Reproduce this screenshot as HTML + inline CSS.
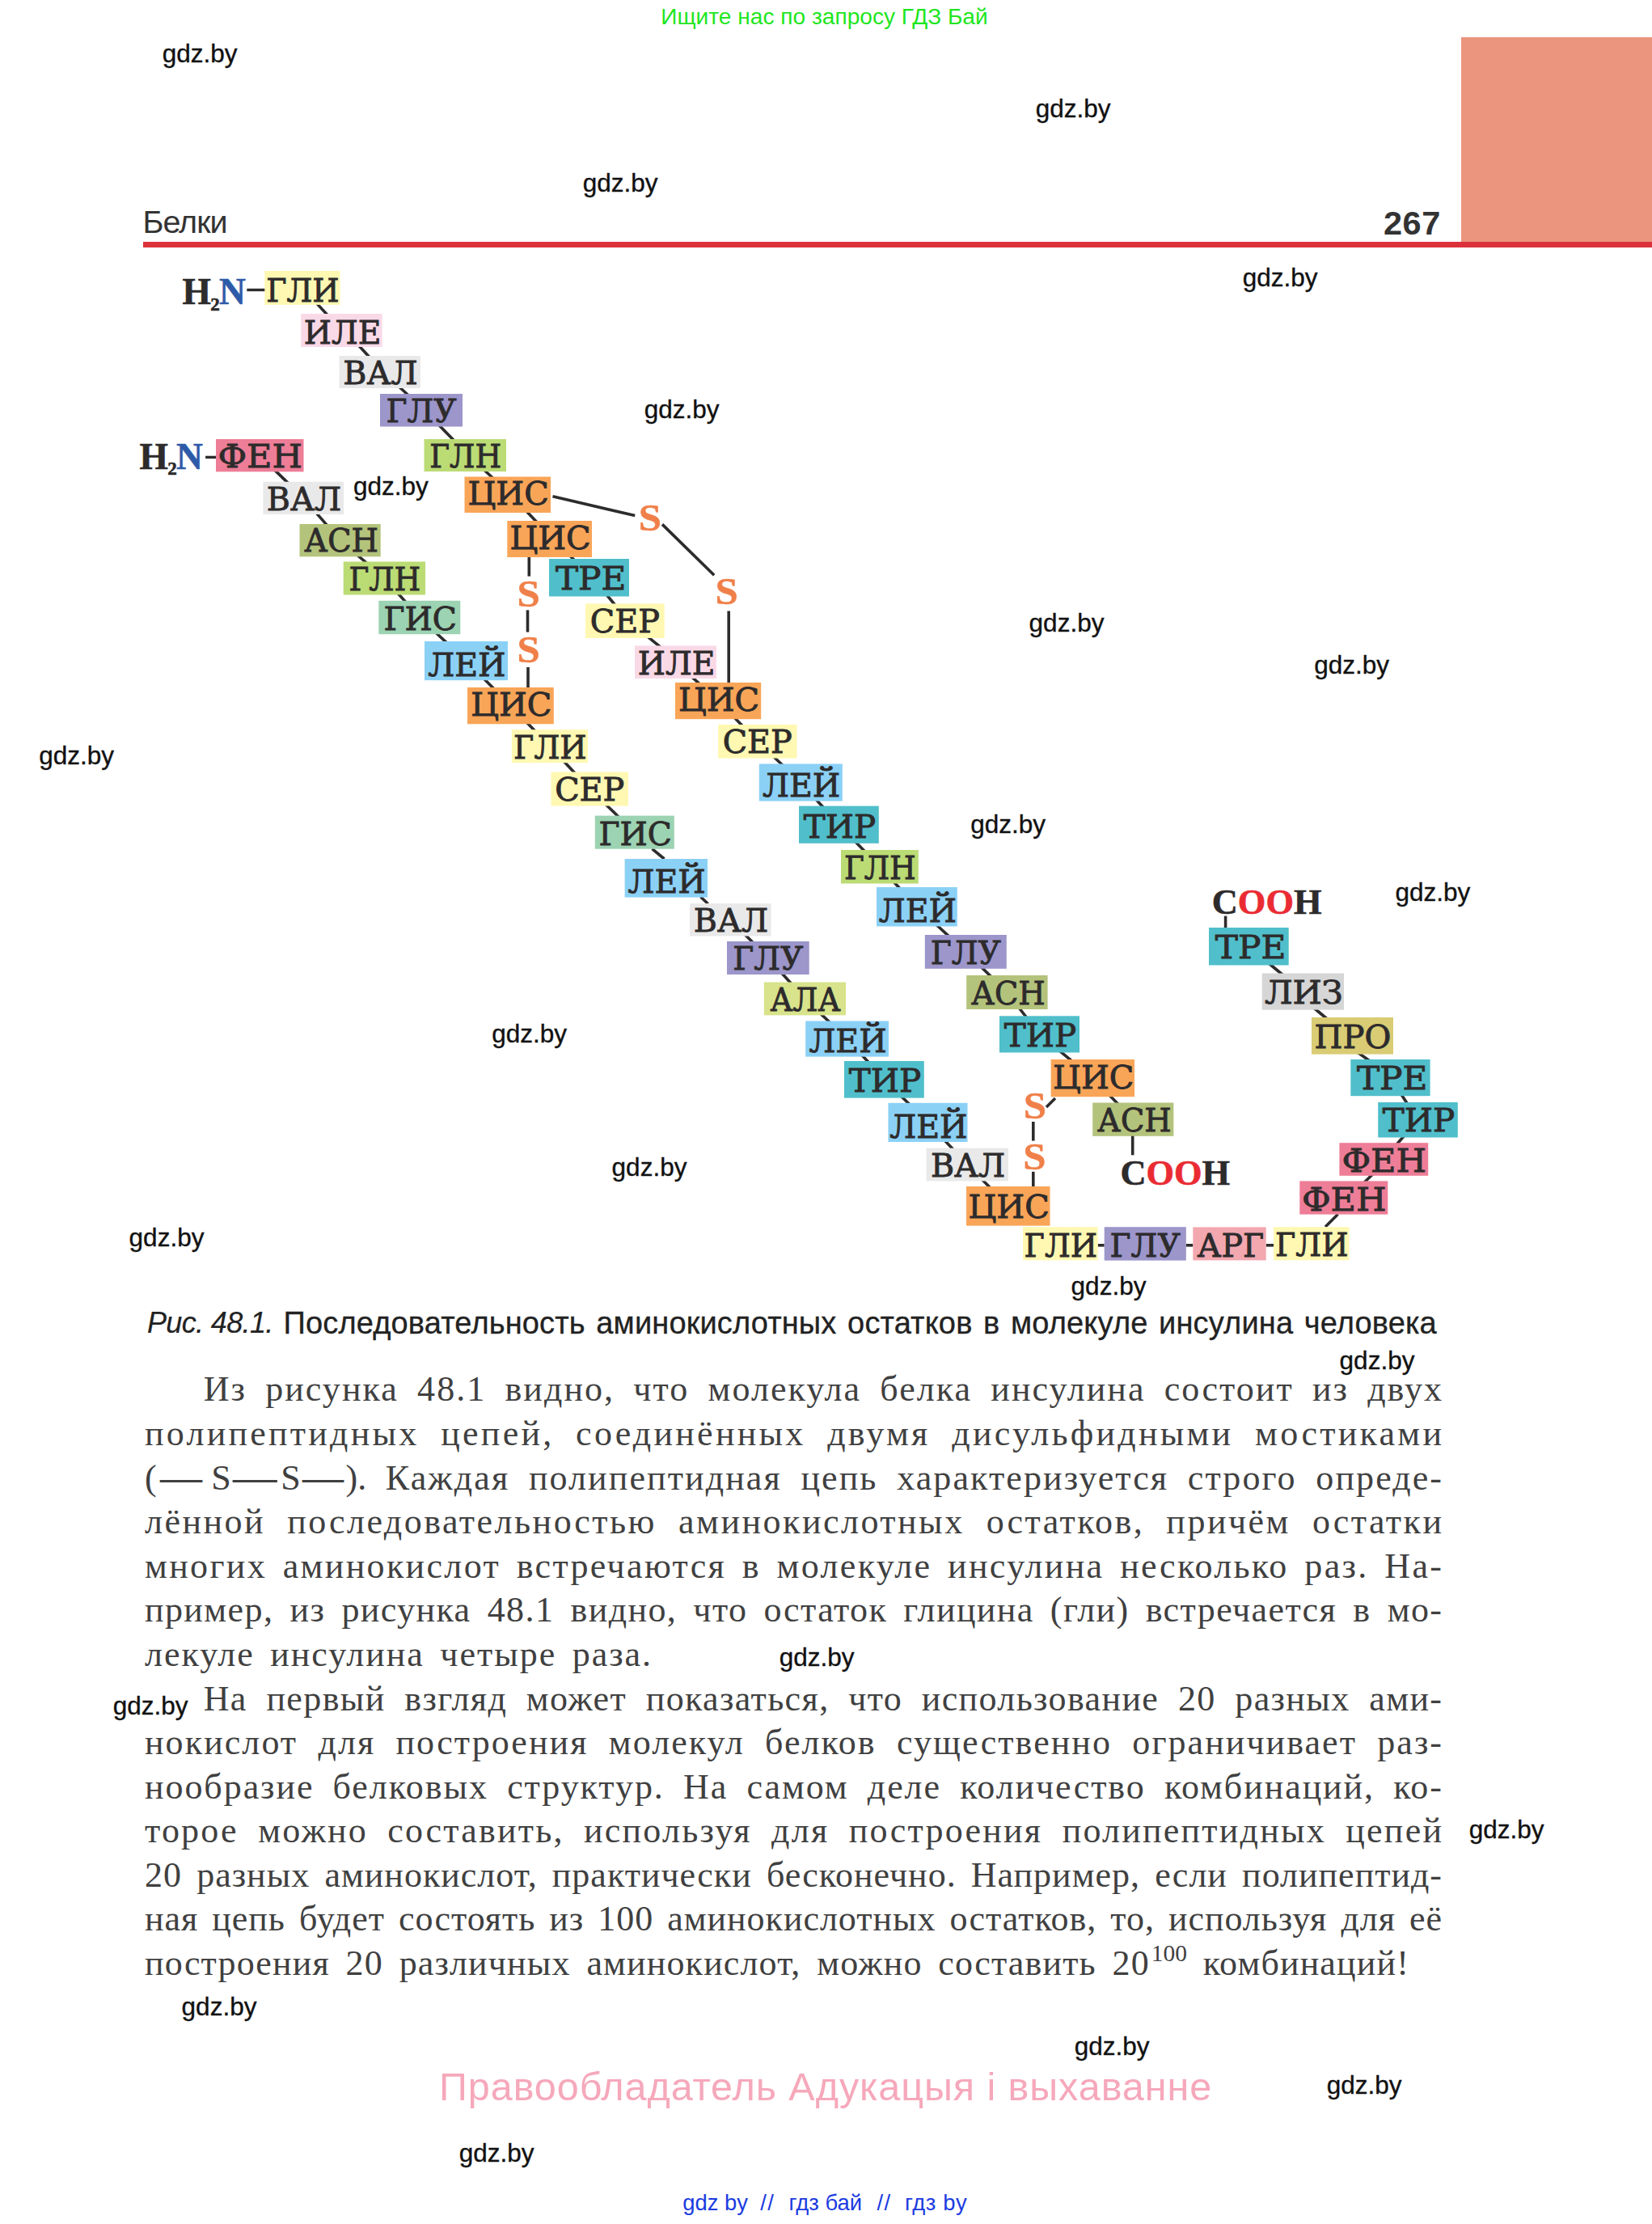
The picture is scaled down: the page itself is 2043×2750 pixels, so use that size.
<!DOCTYPE html>
<html lang="ru"><head><meta charset="utf-8"><title>Белки — 267</title>
<style>
html,body{margin:0;padding:0;background:#fff}
body{width:2043px;height:2750px;position:relative;overflow:hidden;font-family:"Liberation Sans",sans-serif}
.abs{position:absolute;white-space:nowrap}
.wm{position:absolute;white-space:nowrap;font:31.5px/36px "Liberation Sans",sans-serif;color:#111;-webkit-text-stroke:0.35px #111}
.ln{position:absolute;white-space:nowrap;font-family:"Liberation Serif",serif;font-size:44px;line-height:50px;height:50px;color:#404040;text-align:justify;text-align-last:justify}
.pf{letter-spacing:0}
.d{display:inline-block;transform-origin:left center;font-weight:bold;letter-spacing:0;text-align:left;text-align-last:left}
.ln.last{text-align:left;text-align-last:left}
.ln sup{font-size:29.5px;line-height:0;vertical-align:baseline;position:relative;top:-17px;letter-spacing:0px;margin-left:2px}
svg text{font-family:'DejaVu Serif','Liberation Serif',serif;font-size:39.3px;fill:#2d2b2c;stroke:#2d2b2c;stroke-width:0.9px}
</style></head><body>

<div class="abs" style="left:-2px;width:2043px;text-align:center;top:0.9px;font-size:28.1px;line-height:40px;color:#1ee61e">Ищите нас по запросу ГДЗ Бай</div>
<div class="abs" style="left:1807.2px;top:46px;width:236px;height:256px;background:#ec957e"></div>
<div class="abs" style="left:177px;top:299.4px;width:1866px;height:6.4px;background:#db323b"></div>
<div class="abs" style="left:176.5px;top:252.1px;font-size:39.5px;line-height:44px;color:#333;letter-spacing:-1px">Белки</div>
<div class="abs" style="left:1711px;top:254.3px;font-size:41.5px;line-height:44px;font-weight:bold;color:#333;letter-spacing:0.5px">267</div>
<svg class="abs" style="left:0;top:0" width="2043" height="2750" viewBox="0 0 2043 2750">
<line x1="374.0" y1="355.9" x2="422.4" y2="408.5" stroke="#2d2b2c" stroke-width="3.6"/>
<line x1="426.4" y1="408.5" x2="473.8" y2="460.0" stroke="#2d2b2c" stroke-width="3.6"/>
<line x1="473.8" y1="460.0" x2="525.0" y2="507.2" stroke="#2d2b2c" stroke-width="3.6"/>
<line x1="525.0" y1="507.2" x2="579.2" y2="563.0" stroke="#2d2b2c" stroke-width="3.6"/>
<line x1="579.2" y1="563.0" x2="631.8" y2="611.8" stroke="#2d2b2c" stroke-width="3.6"/>
<line x1="631.8" y1="611.8" x2="683.6" y2="666.5" stroke="#2d2b2c" stroke-width="3.6"/>
<line x1="683.6" y1="666.5" x2="732.5" y2="714.2" stroke="#2d2b2c" stroke-width="3.6"/>
<line x1="732.5" y1="714.2" x2="776.9" y2="767.7" stroke="#2d2b2c" stroke-width="3.6"/>
<line x1="776.9" y1="767.7" x2="839.5" y2="818.7" stroke="#2d2b2c" stroke-width="3.6"/>
<line x1="835.5" y1="818.7" x2="888.1" y2="866.6" stroke="#2d2b2c" stroke-width="3.6"/>
<line x1="888.1" y1="866.6" x2="936.8" y2="916.8" stroke="#2d2b2c" stroke-width="3.6"/>
<line x1="936.8" y1="916.8" x2="990.3" y2="967.5" stroke="#2d2b2c" stroke-width="3.6"/>
<line x1="990.3" y1="967.5" x2="1037.4" y2="1019.7" stroke="#2d2b2c" stroke-width="3.6"/>
<line x1="1037.4" y1="1019.7" x2="1087.9" y2="1071.8" stroke="#2d2b2c" stroke-width="3.6"/>
<line x1="1087.9" y1="1071.8" x2="1133.9" y2="1121.2" stroke="#2d2b2c" stroke-width="3.6"/>
<line x1="1133.9" y1="1121.2" x2="1194.3" y2="1176.9" stroke="#2d2b2c" stroke-width="3.6"/>
<line x1="1194.3" y1="1176.9" x2="1245.4" y2="1227.0" stroke="#2d2b2c" stroke-width="3.6"/>
<line x1="1245.4" y1="1227.0" x2="1285.5" y2="1278.9" stroke="#2d2b2c" stroke-width="3.6"/>
<line x1="1285.5" y1="1278.9" x2="1351.3" y2="1333.1" stroke="#2d2b2c" stroke-width="3.6"/>
<line x1="1351.3" y1="1333.1" x2="1401.3" y2="1384.2" stroke="#2d2b2c" stroke-width="3.6"/>
<line x1="321.2" y1="563.1" x2="375.2" y2="615.9" stroke="#2d2b2c" stroke-width="3.6"/>
<line x1="375.2" y1="615.9" x2="420.6" y2="668.1" stroke="#2d2b2c" stroke-width="3.6"/>
<line x1="420.6" y1="668.1" x2="475.4" y2="715.0" stroke="#2d2b2c" stroke-width="3.6"/>
<line x1="475.4" y1="715.0" x2="518.8" y2="763.5" stroke="#2d2b2c" stroke-width="3.6"/>
<line x1="518.8" y1="763.5" x2="576.5" y2="817.1" stroke="#2d2b2c" stroke-width="3.6"/>
<line x1="576.5" y1="817.1" x2="631.4" y2="872.6" stroke="#2d2b2c" stroke-width="3.6"/>
<line x1="631.4" y1="872.6" x2="679.9" y2="922.8" stroke="#2d2b2c" stroke-width="3.6"/>
<line x1="679.9" y1="922.8" x2="729.2" y2="975.5" stroke="#2d2b2c" stroke-width="3.6"/>
<line x1="729.2" y1="975.5" x2="784.8" y2="1029.2" stroke="#2d2b2c" stroke-width="3.6"/>
<line x1="806.5" y1="1049.7" x2="821.5" y2="1062.0" stroke="#2d2b2c" stroke-width="3.6"/>
<line x1="866.5" y1="1109.0" x2="875.5" y2="1117.5" stroke="#2d2b2c" stroke-width="3.6"/>
<line x1="903.2" y1="1137.3" x2="949.9" y2="1184.5" stroke="#2d2b2c" stroke-width="3.6"/>
<line x1="949.9" y1="1184.5" x2="995.4" y2="1235.0" stroke="#2d2b2c" stroke-width="3.6"/>
<line x1="995.4" y1="1235.0" x2="1047.6" y2="1284.5" stroke="#2d2b2c" stroke-width="3.6"/>
<line x1="1047.6" y1="1284.5" x2="1093.4" y2="1334.8" stroke="#2d2b2c" stroke-width="3.6"/>
<line x1="1093.4" y1="1334.8" x2="1147.5" y2="1387.9" stroke="#2d2b2c" stroke-width="3.6"/>
<line x1="1147.5" y1="1387.9" x2="1196.3" y2="1440.1" stroke="#2d2b2c" stroke-width="3.6"/>
<line x1="1196.3" y1="1440.1" x2="1246.8" y2="1491.3" stroke="#2d2b2c" stroke-width="3.6"/>
<line x1="1357.7" y1="1539.8" x2="1365.7" y2="1539.8" stroke="#2d2b2c" stroke-width="3.6"/>
<line x1="1466.8" y1="1539.8" x2="1475.4" y2="1539.8" stroke="#2d2b2c" stroke-width="3.6"/>
<line x1="1565.7" y1="1539.8" x2="1575.6" y2="1539.8" stroke="#2d2b2c" stroke-width="3.6"/>
<line x1="1639.0" y1="1517.0" x2="1654.5" y2="1501.5" stroke="#2d2b2c" stroke-width="3.6"/>
<line x1="1699.0" y1="1450.5" x2="1685.0" y2="1464.3" stroke="#2d2b2c" stroke-width="3.6"/>
<line x1="1711.3" y1="1433.5" x2="1753.5" y2="1384.8" stroke="#2d2b2c" stroke-width="3.6"/>
<line x1="1753.5" y1="1384.8" x2="1719.4" y2="1332.6" stroke="#2d2b2c" stroke-width="3.6"/>
<line x1="1678.3" y1="1300.7" x2="1695.8" y2="1313.2" stroke="#2d2b2c" stroke-width="3.6"/>
<line x1="1624.5" y1="1246.0" x2="1642.5" y2="1261.0" stroke="#2d2b2c" stroke-width="3.6"/>
<line x1="1569.0" y1="1191.0" x2="1587.0" y2="1206.0" stroke="#2d2b2c" stroke-width="3.6"/>
<line x1="305.3" y1="358.5" x2="328.0" y2="358.5" stroke="#2d2b2c" stroke-width="3.4"/>
<line x1="254.1" y1="565.4" x2="268.0" y2="565.4" stroke="#2d2b2c" stroke-width="3.4"/>
<line x1="683.5" y1="613.8" x2="785.2" y2="637.5" stroke="#2d2b2c" stroke-width="3.6"/>
<line x1="819.0" y1="648.4" x2="883.2" y2="711.3" stroke="#2d2b2c" stroke-width="3.6"/>
<line x1="901.2" y1="755.5" x2="901.2" y2="845.0" stroke="#2d2b2c" stroke-width="3.6"/>
<line x1="654.3" y1="688.0" x2="654.3" y2="712.6" stroke="#2d2b2c" stroke-width="3.6"/>
<line x1="652.5" y1="754.4" x2="652.5" y2="781.6" stroke="#2d2b2c" stroke-width="3.6"/>
<line x1="653.0" y1="825.0" x2="653.0" y2="851.0" stroke="#2d2b2c" stroke-width="3.6"/>
<line x1="1305.0" y1="1358.0" x2="1294.0" y2="1369.0" stroke="#2d2b2c" stroke-width="3.6"/>
<line x1="1277.8" y1="1387.0" x2="1277.8" y2="1410.6" stroke="#2d2b2c" stroke-width="3.6"/>
<line x1="1277.8" y1="1448.8" x2="1277.8" y2="1468.0" stroke="#2d2b2c" stroke-width="3.6"/>
<line x1="1400.7" y1="1404.0" x2="1400.7" y2="1428.3" stroke="#2d2b2c" stroke-width="3.6"/>
<line x1="1515.6" y1="1132.6" x2="1515.6" y2="1148.0" stroke="#2d2b2c" stroke-width="3.6"/>
<rect x="327.3" y="335.0" width="93.3" height="41.9" fill="#fff8b2"/>
<rect x="372.2" y="388.0" width="100.4" height="41.0" fill="#fad9e7"/>
<rect x="419.5" y="440.0" width="100.5" height="40.0" fill="#e9e9ea"/>
<rect x="470.0" y="487.0" width="102.0" height="40.5" fill="#9c96cb"/>
<rect x="524.5" y="543.0" width="101.5" height="40.0" fill="#bbdb74"/>
<rect x="574.5" y="589.5" width="106.5" height="44.5" fill="#f9a558"/>
<rect x="627.3" y="644.0" width="104.7" height="45.0" fill="#f9a558"/>
<rect x="679.0" y="691.0" width="99.0" height="46.5" fill="#50bfcb"/>
<rect x="724.0" y="746.4" width="97.7" height="42.6" fill="#fff8b2"/>
<rect x="785.0" y="798.4" width="101.0" height="40.6" fill="#fad9e7"/>
<rect x="835.0" y="844.0" width="106.2" height="45.2" fill="#f9a558"/>
<rect x="888.0" y="896.0" width="97.5" height="41.6" fill="#fff8b2"/>
<rect x="938.8" y="944.5" width="103.0" height="46.1" fill="#8bd1f6"/>
<rect x="988.0" y="996.6" width="98.8" height="46.2" fill="#50bfcb"/>
<rect x="1040.0" y="1051.0" width="95.8" height="41.5" fill="#bbdb74"/>
<rect x="1084.0" y="1097.0" width="99.8" height="48.5" fill="#8bd1f6"/>
<rect x="1143.8" y="1156.0" width="101.0" height="41.8" fill="#9c96cb"/>
<rect x="1195.2" y="1206.0" width="100.4" height="42.0" fill="#b4c37b"/>
<rect x="1236.0" y="1256.3" width="99.0" height="45.2" fill="#50bfcb"/>
<rect x="1299.6" y="1310.0" width="103.4" height="46.2" fill="#f9a558"/>
<rect x="1351.2" y="1363.5" width="100.2" height="41.3" fill="#b4c37b"/>
<rect x="267.0" y="543.0" width="108.5" height="40.3" fill="#ee7d97"/>
<rect x="325.4" y="595.7" width="99.6" height="40.3" fill="#e9e9ea"/>
<rect x="370.5" y="648.0" width="100.2" height="40.3" fill="#b4c37b"/>
<rect x="424.7" y="694.5" width="101.3" height="41.0" fill="#bbdb74"/>
<rect x="468.3" y="742.8" width="101.0" height="41.4" fill="#9cd3b2"/>
<rect x="525.0" y="793.0" width="103.0" height="48.2" fill="#8bd1f6"/>
<rect x="578.0" y="850.0" width="106.8" height="45.3" fill="#f9a558"/>
<rect x="632.8" y="902.2" width="94.2" height="41.1" fill="#fff8b2"/>
<rect x="681.5" y="954.5" width="95.5" height="42.0" fill="#fff8b2"/>
<rect x="735.8" y="1008.6" width="98.0" height="41.1" fill="#9cd3b2"/>
<rect x="772.6" y="1062.0" width="102.4" height="47.6" fill="#8bd1f6"/>
<rect x="853.0" y="1117.2" width="100.5" height="40.3" fill="#e9e9ea"/>
<rect x="899.0" y="1164.0" width="101.7" height="41.0" fill="#9c96cb"/>
<rect x="944.8" y="1214.5" width="101.2" height="40.9" fill="#d8e38b"/>
<rect x="996.2" y="1262.5" width="102.8" height="44.1" fill="#8bd1f6"/>
<rect x="1044.0" y="1312.0" width="98.8" height="45.6" fill="#50bfcb"/>
<rect x="1098.4" y="1363.8" width="98.1" height="48.2" fill="#8bd1f6"/>
<rect x="1145.6" y="1419.7" width="101.4" height="40.7" fill="#e9e9ea"/>
<rect x="1195.0" y="1467.0" width="103.5" height="48.6" fill="#f9a558"/>
<rect x="1265.0" y="1517.2" width="92.7" height="41.1" fill="#fff8b2"/>
<rect x="1365.7" y="1517.2" width="101.1" height="41.4" fill="#9c96cb"/>
<rect x="1475.3" y="1517.4" width="90.4" height="41.0" fill="#f3a8b0"/>
<rect x="1575.0" y="1517.2" width="93.5" height="41.1" fill="#fff8b2"/>
<rect x="1607.3" y="1460.4" width="109.0" height="41.2" fill="#ee7d97"/>
<rect x="1656.4" y="1413.2" width="109.8" height="40.6" fill="#ee7d97"/>
<rect x="1704.2" y="1363.0" width="98.6" height="43.5" fill="#50bfcb"/>
<rect x="1670.3" y="1310.0" width="98.3" height="45.2" fill="#50bfcb"/>
<rect x="1622.0" y="1258.0" width="101.0" height="45.6" fill="#d9cc74"/>
<rect x="1560.7" y="1203.5" width="101.3" height="45.1" fill="#d6d6d7"/>
<rect x="1495.0" y="1147.0" width="98.7" height="46.5" fill="#50bfcb"/>
<text x="329.2" y="372.7" textLength="90.5" lengthAdjust="spacingAndGlyphs">ГЛИ</text>
<text x="375.7" y="424.5" textLength="95.6" lengthAdjust="spacingAndGlyphs">ИЛЕ</text>
<text x="424.3" y="474.8" textLength="92.2" lengthAdjust="spacingAndGlyphs">ВАЛ</text>
<text x="477.4" y="521.7" textLength="87.2" lengthAdjust="spacingAndGlyphs">ГЛУ</text>
<text x="531.3" y="577.8" textLength="88.8" lengthAdjust="spacingAndGlyphs">ГЛН</text>
<text x="578.5" y="624.0" textLength="100.2" lengthAdjust="spacingAndGlyphs">ЦИС</text>
<text x="630.4" y="679.0" textLength="100.2" lengthAdjust="spacingAndGlyphs">ЦИС</text>
<text x="686.9" y="729.3" textLength="87.5" lengthAdjust="spacingAndGlyphs">ТРЕ</text>
<text x="729.8" y="782.3" textLength="86.1" lengthAdjust="spacingAndGlyphs">СЕР</text>
<text x="788.8" y="833.6" textLength="95.6" lengthAdjust="spacingAndGlyphs">ИЛЕ</text>
<text x="838.9" y="879.2" textLength="100.2" lengthAdjust="spacingAndGlyphs">ЦИС</text>
<text x="893.7" y="930.9" textLength="86.1" lengthAdjust="spacingAndGlyphs">СЕР</text>
<text x="943.1" y="985.4" textLength="96.2" lengthAdjust="spacingAndGlyphs">ЛЕЙ</text>
<text x="993.7" y="1035.5" textLength="89.4" lengthAdjust="spacingAndGlyphs">ТИР</text>
<text x="1043.9" y="1087.3" textLength="88.8" lengthAdjust="spacingAndGlyphs">ГЛН</text>
<text x="1086.7" y="1140.3" textLength="96.2" lengthAdjust="spacingAndGlyphs">ЛЕЙ</text>
<text x="1150.7" y="1192.0" textLength="87.2" lengthAdjust="spacingAndGlyphs">ГЛУ</text>
<text x="1201.0" y="1241.8" textLength="91.8" lengthAdjust="spacingAndGlyphs">АСН</text>
<text x="1241.8" y="1294.2" textLength="89.4" lengthAdjust="spacingAndGlyphs">ТИР</text>
<text x="1302.1" y="1346.2" textLength="100.2" lengthAdjust="spacingAndGlyphs">ЦИС</text>
<text x="1356.9" y="1398.6" textLength="91.8" lengthAdjust="spacingAndGlyphs">АСН</text>
<text x="269.4" y="578.3" textLength="104.6" lengthAdjust="spacingAndGlyphs">ФЕН</text>
<text x="329.8" y="630.8" textLength="92.2" lengthAdjust="spacingAndGlyphs">ВАЛ</text>
<text x="376.2" y="682.1" textLength="91.8" lengthAdjust="spacingAndGlyphs">АСН</text>
<text x="431.4" y="730.3" textLength="88.8" lengthAdjust="spacingAndGlyphs">ГЛН</text>
<text x="474.4" y="779.0" textLength="90.4" lengthAdjust="spacingAndGlyphs">ГИС</text>
<text x="529.3" y="836.0" textLength="96.2" lengthAdjust="spacingAndGlyphs">ЛЕЙ</text>
<text x="582.2" y="885.3" textLength="100.2" lengthAdjust="spacingAndGlyphs">ЦИС</text>
<text x="635.1" y="938.1" textLength="90.5" lengthAdjust="spacingAndGlyphs">ГЛИ</text>
<text x="686.2" y="989.8" textLength="86.1" lengthAdjust="spacingAndGlyphs">СЕР</text>
<text x="740.4" y="1044.5" textLength="90.4" lengthAdjust="spacingAndGlyphs">ГИС</text>
<text x="776.6" y="1104.4" textLength="96.2" lengthAdjust="spacingAndGlyphs">ЛЕЙ</text>
<text x="857.8" y="1152.3" textLength="92.2" lengthAdjust="spacingAndGlyphs">ВАЛ</text>
<text x="906.2" y="1199.2" textLength="87.2" lengthAdjust="spacingAndGlyphs">ГЛУ</text>
<text x="952.6" y="1249.6" textLength="86.9" lengthAdjust="spacingAndGlyphs">АЛА</text>
<text x="1000.4" y="1301.4" textLength="96.2" lengthAdjust="spacingAndGlyphs">ЛЕЙ</text>
<text x="1049.7" y="1350.3" textLength="89.4" lengthAdjust="spacingAndGlyphs">ТИР</text>
<text x="1100.2" y="1406.8" textLength="96.2" lengthAdjust="spacingAndGlyphs">ЛЕЙ</text>
<text x="1150.9" y="1455.2" textLength="92.2" lengthAdjust="spacingAndGlyphs">ВАЛ</text>
<text x="1197.5" y="1505.6" textLength="100.2" lengthAdjust="spacingAndGlyphs">ЦИС</text>
<text x="1266.6" y="1553.6" textLength="90.5" lengthAdjust="spacingAndGlyphs">ГЛИ</text>
<text x="1372.6" y="1553.7" textLength="87.2" lengthAdjust="spacingAndGlyphs">ГЛУ</text>
<text x="1480.5" y="1553.7" textLength="82.7" lengthAdjust="spacingAndGlyphs">АРГ</text>
<text x="1577.0" y="1552.9" textLength="90.5" lengthAdjust="spacingAndGlyphs">ГЛИ</text>
<text x="1609.9" y="1496.6" textLength="104.6" lengthAdjust="spacingAndGlyphs">ФЕН</text>
<text x="1659.4" y="1448.8" textLength="104.6" lengthAdjust="spacingAndGlyphs">ФЕН</text>
<text x="1709.8" y="1399.2" textLength="89.4" lengthAdjust="spacingAndGlyphs">ТИР</text>
<text x="1677.9" y="1347.0" textLength="87.5" lengthAdjust="spacingAndGlyphs">ТРЕ</text>
<text x="1625.6" y="1296.0" textLength="94.7" lengthAdjust="spacingAndGlyphs">ПРО</text>
<text x="1563.9" y="1240.7" textLength="96.9" lengthAdjust="spacingAndGlyphs">ЛИЗ</text>
<text x="1502.8" y="1185.3" textLength="87.5" lengthAdjust="spacingAndGlyphs">ТРЕ</text>
<text x="789.8" y="655.7" textLength="28.2" lengthAdjust="spacingAndGlyphs" style="font-family:'Liberation Serif',serif;font-weight:bold;font-size:47px;fill:#f0804a;stroke:#f0804a;stroke-width:0.5">S</text>
<text x="884.5" y="746.7" textLength="28.2" lengthAdjust="spacingAndGlyphs" style="font-family:'Liberation Serif',serif;font-weight:bold;font-size:47px;fill:#f0804a;stroke:#f0804a;stroke-width:0.5">S</text>
<text x="639.5" y="749.5" textLength="28.2" lengthAdjust="spacingAndGlyphs" style="font-family:'Liberation Serif',serif;font-weight:bold;font-size:47px;fill:#f0804a;stroke:#f0804a;stroke-width:0.5">S</text>
<text x="639.5" y="818.8" textLength="28.2" lengthAdjust="spacingAndGlyphs" style="font-family:'Liberation Serif',serif;font-weight:bold;font-size:47px;fill:#f0804a;stroke:#f0804a;stroke-width:0.5">S</text>
<text x="1265.7" y="1383" textLength="28.2" lengthAdjust="spacingAndGlyphs" style="font-family:'Liberation Serif',serif;font-weight:bold;font-size:47px;fill:#f0804a;stroke:#f0804a;stroke-width:0.5">S</text>
<text x="1265.2" y="1445.7" textLength="28.2" lengthAdjust="spacingAndGlyphs" style="font-family:'Liberation Serif',serif;font-weight:bold;font-size:47px;fill:#f0804a;stroke:#f0804a;stroke-width:0.5">S</text>
<text x="225.4" y="376.1" style="font-family:'Liberation Serif',serif;font-weight:bold;font-size:45.5px;stroke-width:0.6" fill="#2d2b2c" stroke="#2d2b2c">H<tspan dy="7.5" dx="-0.5" style="font-size:23px">2</tspan><tspan dy="-7.5" dx="-0.8" fill="#2e5ba8" stroke="#2e5ba8">N</tspan></text>
<text x="172.4" y="579.9" style="font-family:'Liberation Serif',serif;font-weight:bold;font-size:45.5px;stroke-width:0.6" fill="#2d2b2c" stroke="#2d2b2c">H<tspan dy="7.5" dx="-0.5" style="font-size:23px">2</tspan><tspan dy="-7.5" dx="-0.8" fill="#2e5ba8" stroke="#2e5ba8">N</tspan></text>
<text x="1385.4" y="1464.7" style="font-family:'Liberation Serif',serif;font-weight:bold;font-size:44.4px;stroke-width:0.6" fill="#2d2b2c" stroke="#2d2b2c">C<tspan fill="#ea2b33" stroke="#ea2b33">OO</tspan>H</text>
<text x="1498.8" y="1130.2" style="font-family:'Liberation Serif',serif;font-weight:bold;font-size:44.4px;stroke-width:0.6" fill="#2d2b2c" stroke="#2d2b2c">C<tspan fill="#ea2b33" stroke="#ea2b33">OO</tspan>H</text>
</svg>
<div class="abs" style="left:182px;top:1613.5px;font-size:36px;line-height:44px;color:#222;letter-spacing:-0.65px;font-style:italic;-webkit-text-stroke:0.2px #222">Рис. 48.1.</div>
<div class="abs" style="left:350.6px;top:1613.5px;font-size:38px;line-height:44px;color:#222;letter-spacing:0.15px;word-spacing:2.9px;-webkit-text-stroke:0.3px #222">Последовательность аминокислотных остатков в молекуле инсулина человека</div>
<div class="ln" style="left:251.7px;top:1693.4px;width:1533.4px;letter-spacing:2.06px;word-spacing:10.1px">Из рисунка 48.1 видно, что молекула белка инсулина состоит из двух</div>
<div class="ln" style="left:179px;top:1748.0px;width:1607.2px;letter-spacing:3.25px;word-spacing:12.35px">полипептидных цепей, соединённых двумя дисульфидными мостиками</div>
<div class="ln" style="left:179px;top:1802.6px;width:1606.1px;letter-spacing:2.1px;word-spacing:10.5px"><span class='pf'>(<b class='d' style='width:52px;margin-left:4px;margin-right:11.5px;transform:scaleX(1.182)'>—</b>S<b class='d' style='width:54.5px;margin-left:2.7px;margin-right:4.3px;transform:scaleX(1.239)'>—</b>S<b class='d' style='width:51px;margin-left:2.7px;margin-right:2.2px;transform:scaleX(1.159)'>—</b>).</span> Каждая полипептидная цепь характеризуется строго опреде-</div>
<div class="ln" style="left:179px;top:1857.1px;width:1606.5px;letter-spacing:2.5px;word-spacing:13.57px">лённой последовательностью аминокислотных остатков, причём остатки</div>
<div class="ln" style="left:179px;top:1911.7px;width:1606.3px;letter-spacing:2.34px;word-spacing:6.3px">многих аминокислот встречаются в молекуле инсулина несколько раз. На-</div>
<div class="ln" style="left:179px;top:1966.3px;width:1605.4px;letter-spacing:1.41px;word-spacing:7.7px">пример, из рисунка 48.1 видно, что остаток глицина (гли) встречается в мо-</div>
<div class="ln last" style="left:179px;top:2020.9px;letter-spacing:2.0px;word-spacing:6.4px">лекуле инсулина четыре раза.</div>
<div class="ln" style="left:251.7px;top:2075.5px;width:1532.7px;letter-spacing:1.38px;word-spacing:11.23px">На первый взгляд может показаться, что использование 20 разных ами-</div>
<div class="ln" style="left:179px;top:2130.0px;width:1606.1px;letter-spacing:2.07px;word-spacing:12.14px">нокислот для построения молекул белков существенно ограничивает раз-</div>
<div class="ln" style="left:179px;top:2184.6px;width:1605.9px;letter-spacing:1.94px;word-spacing:10.25px">нообразие белковых структур. На самом деле количество комбинаций, ко-</div>
<div class="ln" style="left:179px;top:2239.2px;width:1606.2px;letter-spacing:2.23px;word-spacing:11.04px">торое можно составить, используя для построения полипептидных цепей</div>
<div class="ln" style="left:179px;top:2293.8px;width:1605.0px;letter-spacing:1.0px;word-spacing:6.15px">20 разных аминокислот, практически бесконечно. Например, если полипептид-</div>
<div class="ln" style="left:179px;top:2348.4px;width:1605.0px;letter-spacing:0.97px;word-spacing:5.06px">ная цепь будет состоять из 100 аминокислотных остатков, то, используя для её</div>
<div class="ln last" style="left:179px;top:2402.9px;letter-spacing:1.15px;word-spacing:7.6px">построения 20 различных аминокислот, можно составить 20<sup>100</sup> комбинаций!</div>
<div class="wm" style="left:200.8px;top:47.8px">gdz.by</div>
<div class="wm" style="left:720.8px;top:207.8px">gdz.by</div>
<div class="wm" style="left:796.8px;top:487.8px">gdz.by</div>
<div class="wm" style="left:437.0px;top:583.4px">gdz.by</div>
<div class="wm" style="left:1280.8px;top:115.6px">gdz.by</div>
<div class="wm" style="left:1536.8px;top:324.6px">gdz.by</div>
<div class="wm" style="left:48.3px;top:916.3px">gdz.by</div>
<div class="wm" style="left:608.2px;top:1259.7px">gdz.by</div>
<div class="wm" style="left:1272.6px;top:752.4px">gdz.by</div>
<div class="wm" style="left:1625.2px;top:804.3px">gdz.by</div>
<div class="wm" style="left:1200.2px;top:1001.1px">gdz.by</div>
<div class="wm" style="left:1725.4px;top:1084.6px">gdz.by</div>
<div class="wm" style="left:756.6px;top:1424.5px">gdz.by</div>
<div class="wm" style="left:159.6px;top:1512.4px">gdz.by</div>
<div class="wm" style="left:963.8px;top:2030.8px">gdz.by</div>
<div class="wm" style="left:1324.6px;top:1572.4px">gdz.by</div>
<div class="wm" style="left:1656.6px;top:1663.7px">gdz.by</div>
<div class="wm" style="left:139.8px;top:2091.1px">gdz.by</div>
<div class="wm" style="left:224.6px;top:2463.1px">gdz.by</div>
<div class="wm" style="left:567.8px;top:2643.7px">gdz.by</div>
<div class="wm" style="left:1816.8px;top:2243.8px">gdz.by</div>
<div class="wm" style="left:1328.8px;top:2511.9px">gdz.by</div>
<div class="wm" style="left:1640.8px;top:2559.6px">gdz.by</div>
<div class="abs" style="left:543px;top:2552.2px;font-size:48.5px;line-height:56px;color:#f6a8bb;letter-spacing:0.95px">Правообладатель Адукацыя і выхаванне</div>
<div class="abs" style="left:844.3px;top:2707px;font-size:27.4px;line-height:34px;color:#1b3be0">gdz by</div>
<div class="abs" style="left:940.2px;top:2707px;font-size:27.4px;line-height:34px;color:#1b3be0;letter-spacing:1.5px">//</div>
<div class="abs" style="left:975.6px;top:2707px;font-size:27.4px;line-height:34px;color:#1b3be0">гдз бай</div>
<div class="abs" style="left:1084.4px;top:2707px;font-size:27.4px;line-height:34px;color:#1b3be0;letter-spacing:1.5px">//</div>
<div class="abs" style="left:1118.9px;top:2707px;font-size:27.4px;line-height:34px;color:#1b3be0;letter-spacing:0.6px">гдз by</div>
</body></html>
